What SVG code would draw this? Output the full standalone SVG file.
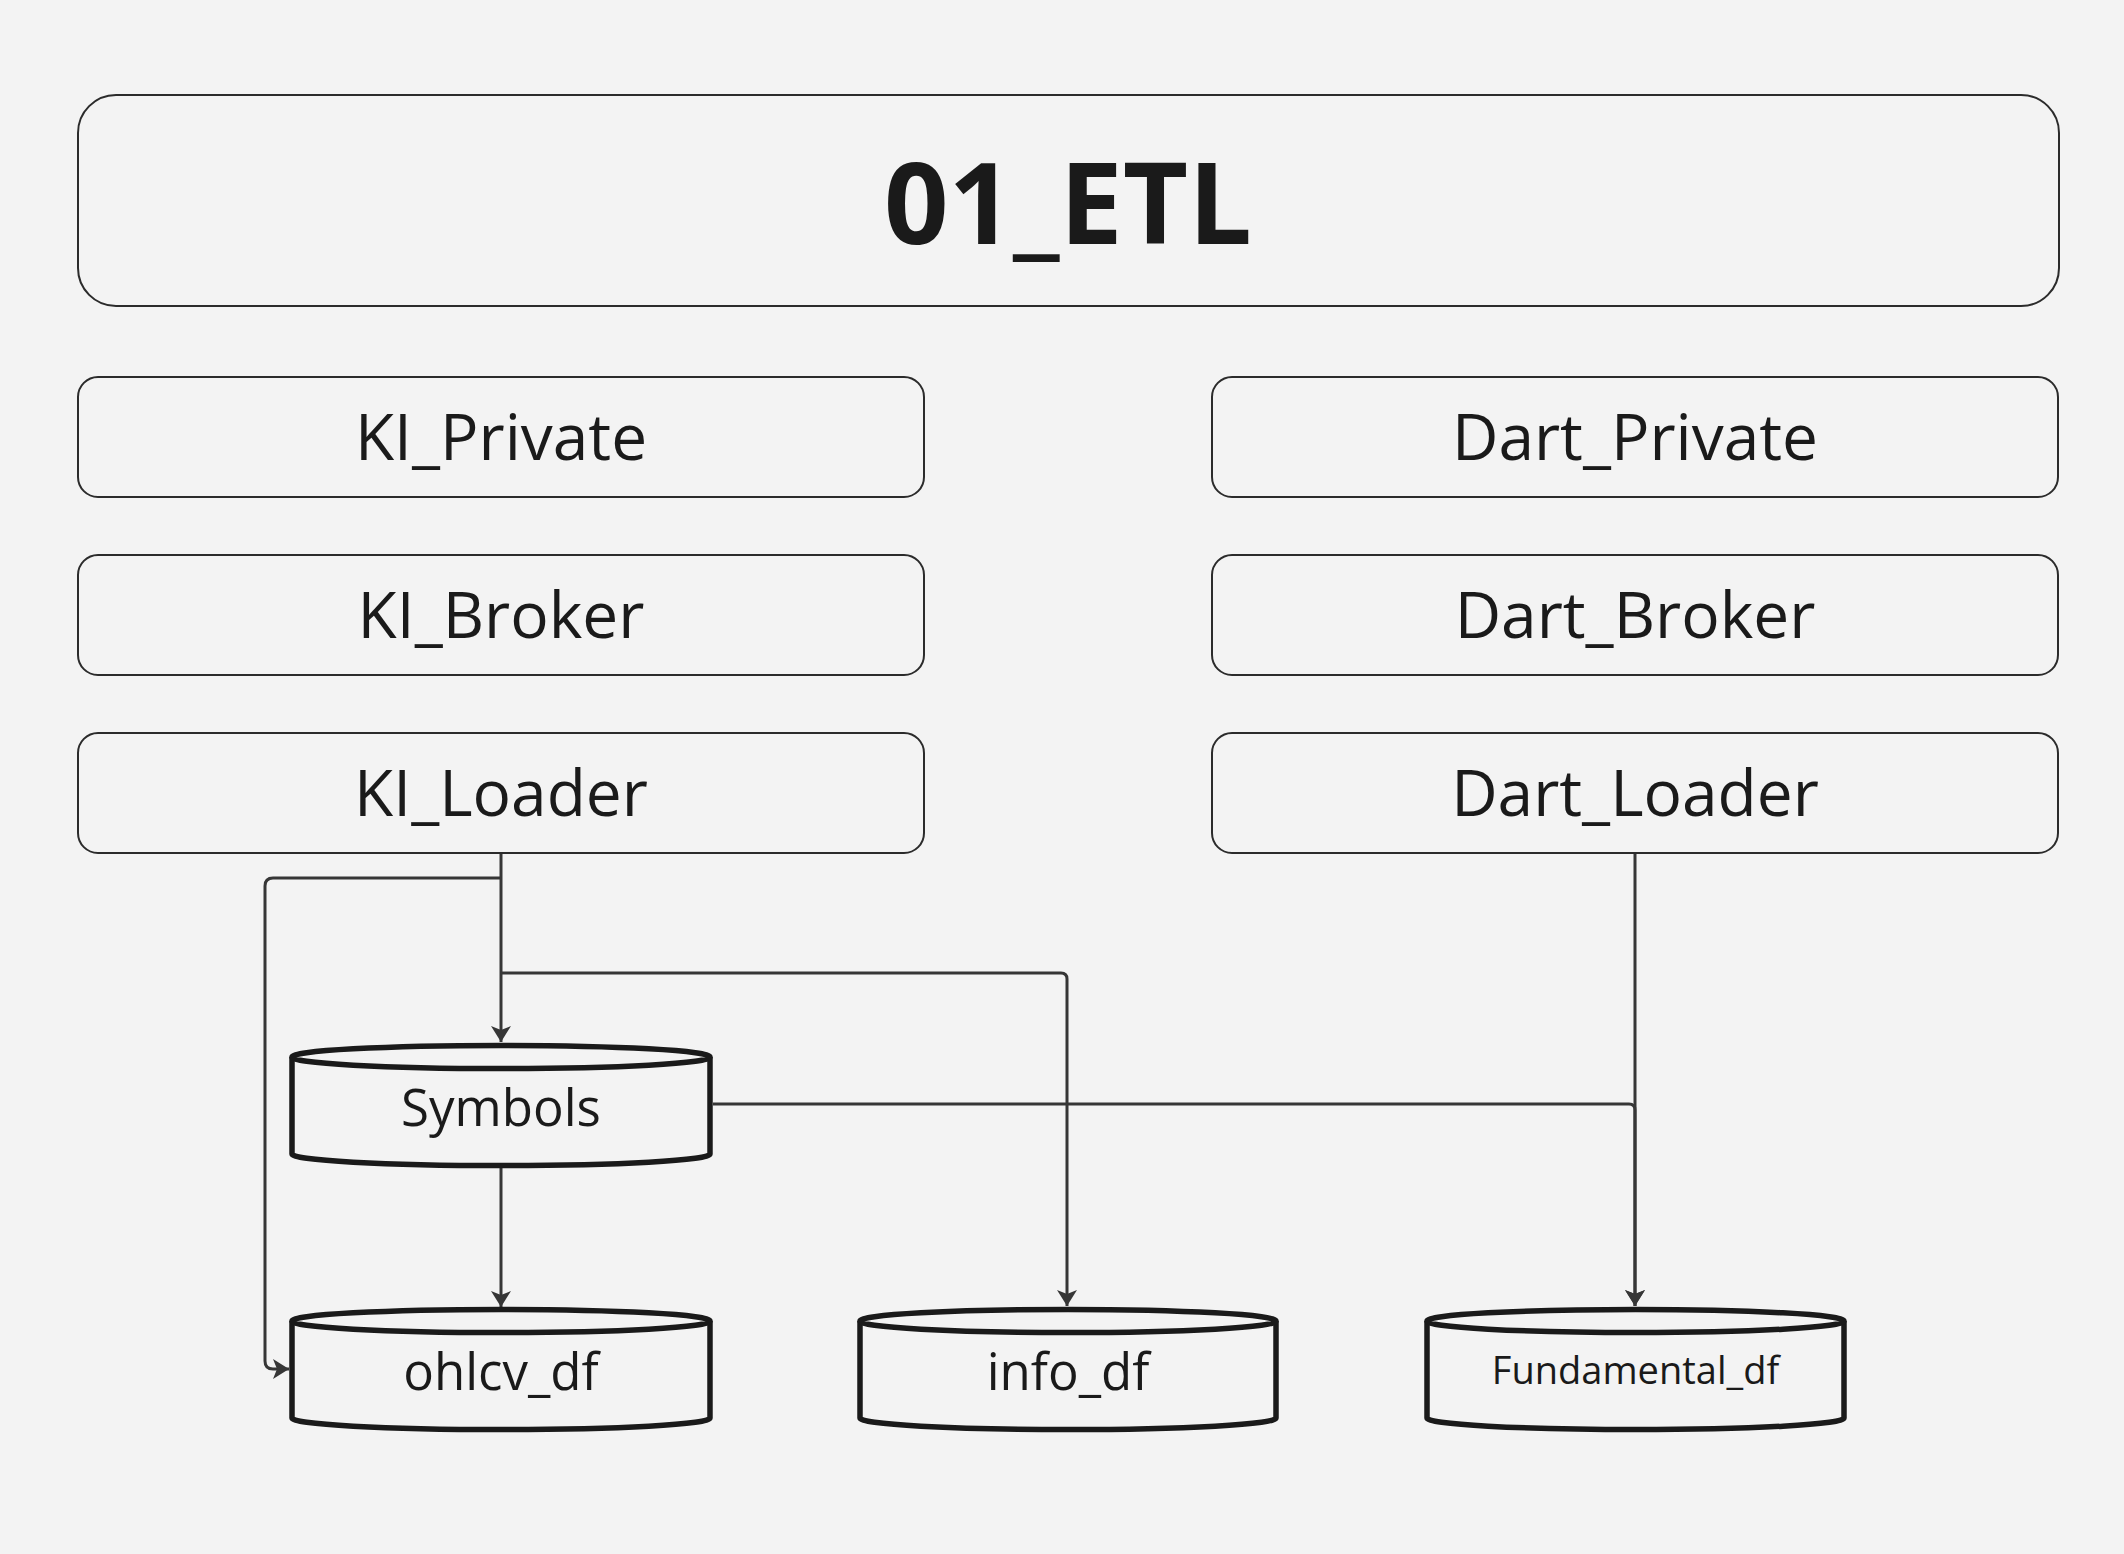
<svg xmlns="http://www.w3.org/2000/svg" width="2124" height="1554" viewBox="0 0 2124 1554">
<style>
.box{fill:#f3f3f3;stroke:#2b2b2b;stroke-width:2}
.lbl{font-family:"Open Sans","Noto Sans",sans-serif;font-size:64px;fill:#1a1a1a;text-anchor:middle}
.cyl{fill:#f3f3f3;stroke:#1a1a1a;stroke-width:5.5;stroke-linejoin:round}
.clbl{font-family:"Open Sans","Noto Sans",sans-serif;font-size:51px;fill:#1a1a1a;text-anchor:middle}
.small{font-size:38px}
.conn{fill:none;stroke:#363636;stroke-width:3;marker-end:url(#arr)}
</style>
<defs>
<marker id="arr" markerUnits="userSpaceOnUse" viewBox="0 0 16 20" markerWidth="16" markerHeight="20" refX="16" refY="10" orient="auto">
<path d="M0,0 L16,10 L0,20 L4,10 Z" fill="#363636"/>
</marker>
</defs>
<rect width="2124" height="1554" fill="#f3f3f3"/>
<g id="title">
<rect class="box" x="78" y="95" width="1981" height="211" rx="38"/>
<text x="1068" y="244" font-family="Open Sans, Noto Sans, sans-serif" font-size="113" font-weight="bold" fill="#1a1a1a" text-anchor="middle">01_ETL</text>
</g>
<g id="ki_private"><rect class="box" x="78" y="377" width="846" height="120" rx="20"/><text class="lbl" x="501" y="460">KI_Private</text></g>
<g id="ki_broker"><rect class="box" x="78" y="555" width="846" height="120" rx="20"/><text class="lbl" x="501" y="638">KI_Broker</text></g>
<g id="ki_loader"><rect class="box" x="78" y="733" width="846" height="120" rx="20"/><text class="lbl" x="501" y="816">KI_Loader</text></g>
<g id="dart_private"><rect class="box" x="1212" y="377" width="846" height="120" rx="20"/><text class="lbl" x="1635" y="460">Dart_Private</text></g>
<g id="dart_broker"><rect class="box" x="1212" y="555" width="846" height="120" rx="20"/><text class="lbl" x="1635" y="638">Dart_Broker</text></g>
<g id="dart_loader"><rect class="box" x="1212" y="733" width="846" height="120" rx="20"/><text class="lbl" x="1635" y="816">Dart_Loader</text></g>
<g id="connectors">
<path class="conn" d="M501,854 L501,1042"/>
<path class="conn" d="M501,878 L273,878 Q265,878 265,886 L265,1361 Q265,1369 273,1369 L289,1369"/>
<path class="conn" d="M501,973 L1061,973 Q1067,973 1067,979 L1067,1306"/>
<path class="conn" d="M501,1168 L501,1307"/>
<path class="conn" d="M713,1104 L1629,1104 Q1635,1104 1635,1110 L1635,1306"/>
<path class="conn" d="M1635,854 L1635,1306"/>
</g>
<g id="symbols">
<path class="cyl" d="M292,1057 L292,1154 A209,11.5 0 0 0 710,1154 L710,1057"/>
<ellipse class="cyl" cx="501" cy="1057" rx="209" ry="11.5"/>
<text class="clbl" x="501" y="1126">Symbols</text>
</g>
<g id="ohlcv_df">
<path class="cyl" d="M292,1321 L292,1418 A209,11.5 0 0 0 710,1418 L710,1321"/>
<ellipse class="cyl" cx="501" cy="1321" rx="209" ry="11.5"/>
<text class="clbl" x="501" y="1390">ohlcv_df</text>
</g>
<g id="info_df">
<path class="cyl" d="M860,1321 L860,1418 A208,11.5 0 0 0 1276,1418 L1276,1321"/>
<ellipse class="cyl" cx="1068" cy="1321" rx="208" ry="11.5"/>
<text class="clbl" x="1068" y="1390">info_df</text>
</g>
<g id="fundamental_df">
<path class="cyl" d="M1427,1321 L1427,1418 A208.5,11.5 0 0 0 1844,1418 L1844,1321"/>
<ellipse class="cyl" cx="1635.5" cy="1321" rx="208.5" ry="11.5"/>
<text class="clbl small" x="1635.5" y="1384">Fundamental_df</text>
</g>
</svg>
